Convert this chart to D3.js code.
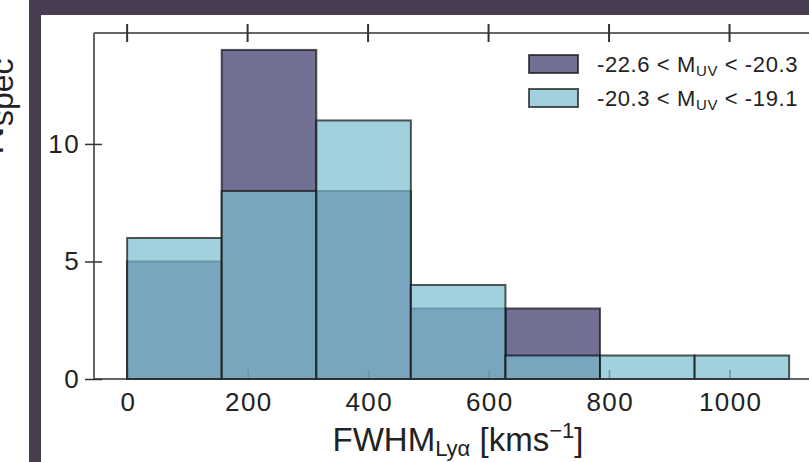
<!DOCTYPE html>
<html>
<head>
<meta charset="utf-8">
<script src="https://cdn.jsdelivr.net/npm/d3@7"></script>
<style>
	body { margin: 0; background: #fff; }
	svg { display: block; font-family: "Liberation Sans", Arial, sans-serif; }
</style>
</head>
<body>
<svg id="chart" width="809" height="462"></svg>
<script>
// histogram bin edges (km/s) and counts per bin
const binEdges = [0, 157, 314, 471, 628, 785, 942, 1099];
const brightCounts = [5, 14, 8, 3, 3, 0, 0];   // -22.6 < MUV < -20.3
const faintCounts = [6, 8, 11, 4, 1, 1, 1];    // -20.3 < MUV < -19.1
const xTicks = [0, 200, 400, 600, 800, 1000];
const yTicks = [0, 5, 10];

(function() {
	let svg = d3.select("#chart");
	let frame = "#4a3d52";
	let axisColor = "#333";

	let x = d3.scaleLinear().domain([-55, 1200]).range([94, 850]);
	let y = d3.scaleLinear().domain([0, 14.72]).range([379, 33]);

	// purple frame around the panel
	svg.append("rect").attr("x", 29).attr("y", 0).attr("width", 780).attr("height", 15).attr("fill", frame);
	svg.append("rect").attr("x", 29).attr("y", 0).attr("width", 12).attr("height", 462).attr("fill", frame);

	// bottom ticks point inwards and sit behind the bars
	svg.append("g")
		.attr("transform", "translate(0," + y(0) + ")")
		.call(d3.axisBottom(x).tickValues(xTicks).tickSizeInner(-9).tickSizeOuter(0).tickPadding(14).tickFormat(d3.format("d")))
		.call(g => g.select(".domain").remove())
		.call(g => g.selectAll("line").attr("stroke", axisColor).attr("stroke-width", 1.5))
		.call(g => g.selectAll("text").attr("fill", "#222").style("font-size", "26px")
			.style("letter-spacing", "1.4px").attr("dy", "0.71em").attr("dx", "0.7px"));

	function drawBars(counts, fill, cls) {
		svg.append("g").selectAll("rect." + cls)
			.data(counts.map((c, i) => ({ x0: binEdges[i], x1: binEdges[i + 1], n: c })).filter(d => d.n > 0))
			.enter()
			.append("rect")
			.attr("class", cls)
			.attr("x", d => x(d.x0))
			.attr("y", d => y(d.n))
			.attr("width", d => x(d.x1) - x(d.x0))
			.attr("height", d => y(0) - y(d.n))
			.attr("fill", fill)
			.attr("fill-opacity", 0.7)
			.attr("stroke", "#111")
			.attr("stroke-opacity", 0.7)
			.attr("stroke-width", 2);
	}
	drawBars(brightCounts, "#37336a", "bright");
	drawBars(faintCounts, "#7abdd0", "faint");

	// spines
	svg.append("line").attr("x1", 94).attr("x2", 850).attr("y1", y(0)).attr("y2", y(0)).attr("stroke", axisColor).attr("stroke-width", 1.5);
	svg.append("line").attr("x1", 94).attr("x2", 850).attr("y1", 33).attr("y2", 33).attr("stroke", axisColor).attr("stroke-width", 1.5);
	svg.append("line").attr("x1", 94).attr("x2", 94).attr("y1", 33).attr("y2", y(0)).attr("stroke", axisColor).attr("stroke-width", 1.5);

	// top ticks cross the spine
	svg.append("g").selectAll("line")
		.data(xTicks)
		.enter()
		.append("line")
		.attr("x1", d => x(d)).attr("x2", d => x(d))
		.attr("y1", 24).attr("y2", 42)
		.attr("stroke", axisColor).attr("stroke-width", 2);

	// left axis, ticks cross the spine
	svg.append("g")
		.attr("transform", "translate(102,0)")
		.call(d3.axisLeft(y).tickValues(yTicks).tickSizeInner(17).tickSizeOuter(0).tickPadding(5))
		.call(g => g.select(".domain").remove())
		.call(g => g.selectAll("line").attr("stroke", axisColor).attr("stroke-width", 1.5))
		.call(g => g.selectAll("text").attr("fill", "#222").style("font-size", "26px").style("letter-spacing", "1.4px"));

	// x label
	let xl = svg.append("text")
		.attr("x", 458).attr("y", 451)
		.attr("text-anchor", "middle")
		.attr("fill", "#222")
		.style("font-size", "33px");
	xl.append("tspan").text("FWHM");
	xl.append("tspan").attr("dy", 5).style("font-size", "22px").text("Lyα");
	xl.append("tspan").attr("dy", -5).text(" [kms");
	xl.append("tspan").attr("dy", -13).style("font-size", "22px").text("−1");
	xl.append("tspan").attr("dy", 13).text("]");

	// y label, mostly cut off at the left edge
	let yl = svg.append("text")
		.attr("transform", "translate(3,155) rotate(-90)")
		.attr("fill", "#222")
		.style("font-size", "40px");
	yl.append("tspan").text("N");
	yl.append("tspan").attr("dy", 10).style("font-size", "32px").text("spec");

	// legend
	let legendItems = [
		{ fill: "#37336a", lo: "-22.6", hi: "-20.3" },
		{ fill: "#7abdd0", lo: "-20.3", hi: "-19.1" }
	];
	let legend = svg.append("g").selectAll("g")
		.data(legendItems)
		.enter()
		.append("g")
		.attr("transform", (d, i) => "translate(529," + (55 + i * 34) + ")");
	legend.append("rect")
		.attr("width", 49).attr("height", 18)
		.attr("fill", d => d.fill).attr("fill-opacity", 0.7)
		.attr("stroke", "#111").attr("stroke-opacity", 0.7).attr("stroke-width", 2);
	let lt = legend.append("text")
		.attr("x", 68).attr("y", 17)
		.attr("fill", "#222")
		.style("font-size", "22px")
		.style("letter-spacing", "0.6px");
	lt.append("tspan").text(d => d.lo + " < M");
	lt.append("tspan").attr("dy", 4).style("font-size", "15px").text("UV");
	lt.append("tspan").attr("dy", -4).text(d => " < " + d.hi);
})();
</script>
</body>
</html>
